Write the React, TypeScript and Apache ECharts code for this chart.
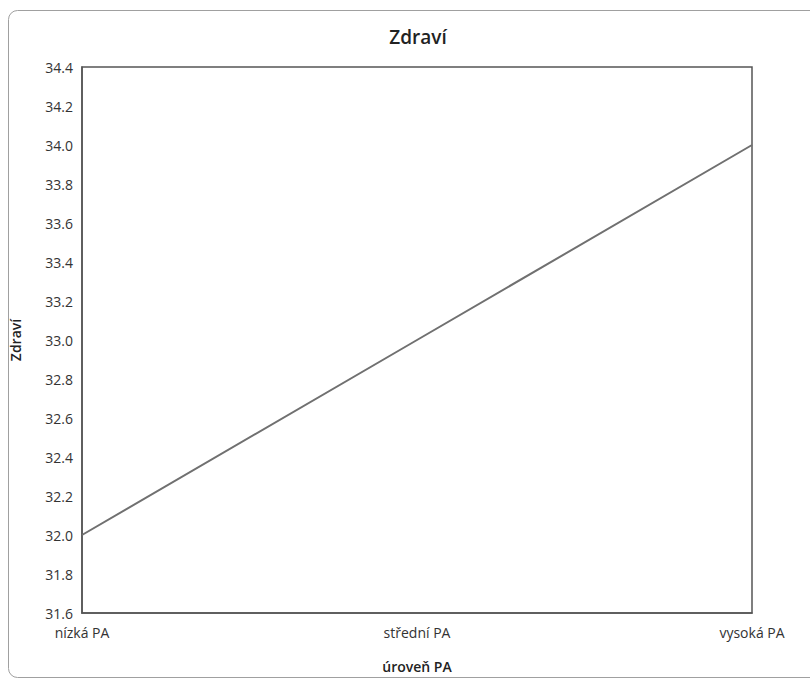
import React, { useEffect, useRef } from "react";
import * as echarts from "echarts";

const categories = ["nízká PA", "střední PA", "vysoká PA"];
const values = [32.0, 33.0, 34.0];
const titleText = "Zdraví";
const xName = "úroveň PA";
const yName = "Zdraví";

export default function App() {
  const ref = useRef<HTMLDivElement>(null);
  useEffect(() => {
    const chart = echarts.init(ref.current!, null, { renderer: "svg" });
    const font = "'Open Sans', 'Noto Sans', sans-serif";
    chart.setOption({
      animation: false,
      backgroundColor: "#fff",
      textStyle: { fontFamily: font },
      title: {
        text: titleText,
        left: 413,
        top: 22,
        textAlign: "center",
        textStyle: { fontFamily: font, fontSize: 19, fontWeight: 600, color: "#222" },
      },
      graphic: [
        {
          type: "rect",
          shape: { x: 8.5, y: 10.5, width: 820, height: 667, r: 9 },
          style: { fill: "none", stroke: "#a0a0a0", lineWidth: 1 },
          silent: true,
          z: -1,
        },
      ],
      grid: {
        left: 79,
        right: 58,
        top: 67,
        bottom: 67,
        show: true,
        borderColor: "#555",
        borderWidth: 1.5,
      },
      xAxis: {
        type: "category",
        data: categories,
        boundaryGap: false,
        name: xName,
        nameLocation: "middle",
        nameGap: 46,
        nameTextStyle: { fontFamily: font, fontSize: 14, fontWeight: 600, color: "#222" },
        axisLine: { lineStyle: { color: "#555", width: 1.5 } },
        axisTick: { show: false },
        axisLabel: { fontFamily: font, fontSize: 14, color: "#333", margin: 12 },
        splitLine: { show: false },
      },
      yAxis: {
        type: "value",
        min: 31.6,
        max: 34.4,
        interval: 0.2,
        name: yName,
        nameLocation: "middle",
        nameGap: 60,
        nameTextStyle: { fontFamily: font, fontSize: 14, fontWeight: 600, color: "#222" },
        axisLine: { show: true, lineStyle: { color: "#555", width: 1.5 } },
        axisTick: { show: false },
        axisLabel: {
          fontFamily: font,
          fontSize: 14,
          color: "#333",
          margin: 9,
          formatter: (v: number) => v.toFixed(1),
        },
        splitLine: { show: false },
      },
      series: [
        {
          type: "line",
          data: values,
          symbol: "none",
          lineStyle: { color: "#707070", width: 2 },
        },
      ],
    });
    return () => chart.dispose();
  }, []);
  return (
    <div
      ref={ref}
      style={{ position: "absolute", left: 0, top: 0, width: 810, height: 680 }}
    />
  );
}
